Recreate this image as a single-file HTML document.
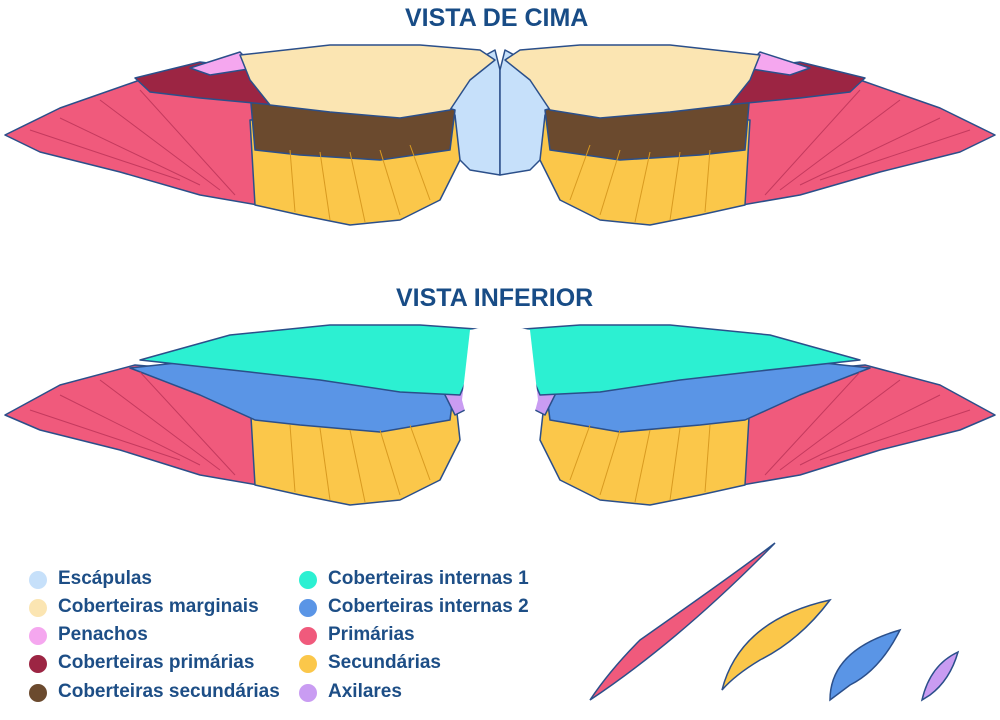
<!DOCTYPE html>
<html><head><meta charset="utf-8"><style>
body{margin:0;background:#fff;width:1000px;height:720px;overflow:hidden;font-family:"Liberation Sans",sans-serif}
.t{position:absolute;font-weight:bold;color:#184c86;font-size:25px;letter-spacing:0px}
.lg{position:absolute;font-weight:bold;color:#1d4e86;font-size:19px;white-space:nowrap}
.d{position:absolute;width:18px;height:18px;border-radius:50%}
</style></head><body>
<div class="t" style="left:405px;top:4px;font-family:'Liberation Sans Narrow','Liberation Sans',sans-serif">VISTA DE CIMA</div>
<div class="t" style="left:396px;top:284px;font-family:'Liberation Sans Narrow','Liberation Sans',sans-serif">VISTA INFERIOR</div>
<svg width="1000" height="720" style="position:absolute;left:0;top:0">
<defs>
<g id="top" stroke="#2b4f8a" stroke-width="1.5" stroke-linejoin="round">
<polygon fill="#c6e0fa" points="440,80 495,50 500,70 500,175 470,170 450,150"/>
<polygon fill="#f05a7c" points="5,135 60,108 140,80 255,95 258,205 200,195 120,172 40,152"/>
<polygon fill="#fbc74a" points="250,120 455,115 460,160 440,200 400,220 350,225 300,215 255,205"/>
<polygon fill="#6b4a2e" points="250,92 420,100 455,110 450,150 380,160 300,155 255,150"/>
<polygon fill="#9c2543" points="135,78 200,62 265,70 275,105 200,98 150,92"/>
<polygon fill="#f5a7ef" points="190,68 240,52 255,68 210,75"/>
<polygon fill="#fbe5b2" points="240,55 330,45 420,45 480,50 495,60 470,80 450,110 400,118 330,112 270,105 250,80"/>
<g stroke="#c43a5e" stroke-width="1"><line x1="60" y1="118" x2="200" y2="185"/><line x1="100" y1="100" x2="220" y2="190"/><line x1="140" y1="90" x2="235" y2="195"/><line x1="30" y1="130" x2="180" y2="180"/></g>
<g stroke="#d89a20" stroke-width="1"><line x1="290" y1="150" x2="295" y2="212"/><line x1="320" y1="152" x2="330" y2="220"/><line x1="350" y1="152" x2="365" y2="222"/><line x1="380" y1="150" x2="400" y2="215"/><line x1="410" y1="145" x2="430" y2="200"/></g>
</g>
<g id="bot" stroke="#2b4f8a" stroke-width="1.5" stroke-linejoin="round">
<polygon fill="#f05a7c" points="5,415 60,385 135,365 255,375 258,485 200,475 120,450 40,430"/>
<polygon fill="#fbc74a" points="250,400 455,395 460,440 440,480 400,500 350,505 300,495 255,485"/>
<polygon fill="#5a95e6" points="130,368 250,355 420,365 455,380 450,420 380,432 300,425 255,420 200,395"/>
<polygon fill="#c99cf2" points="440,385 470,378 475,405 455,415"/>
<polygon fill="#2cf0d2" points="140,360 230,335 330,325 420,325 490,330 475,360 460,395 400,392 320,380 250,372"/>
<g fill="#fff" stroke="none"><polygon points="470,330 495,325 498,420 470,430 462,400"/></g>
<g stroke="#c43a5e" stroke-width="1"><line x1="60" y1="395" x2="200" y2="465"/><line x1="100" y1="380" x2="220" y2="470"/><line x1="140" y1="372" x2="235" y2="475"/><line x1="30" y1="410" x2="180" y2="460"/></g>
<g stroke="#d89a20" stroke-width="1"><line x1="290" y1="425" x2="295" y2="492"/><line x1="320" y1="428" x2="330" y2="500"/><line x1="350" y1="430" x2="365" y2="502"/><line x1="380" y1="430" x2="400" y2="495"/><line x1="410" y1="425" x2="430" y2="480"/></g>
</g>
</defs>
<use href="#top"/><use href="#top" transform="translate(1000,0) scale(-1,1)"/>
<use href="#bot"/><use href="#bot" transform="translate(1000,0) scale(-1,1)"/>
<g stroke="#2b4f8a" stroke-width="1.5">
<path d="M590,700 Q680,640 775,543 Q740,570 640,640 Q610,670 590,700Z" fill="#f05a7c"/>
<path d="M722,690 Q740,620 830,600 Q800,640 760,660 Q735,675 722,690Z" fill="#fbc74a"/>
<path d="M830,700 Q830,650 900,630 Q880,670 850,685Z" fill="#5a95e6"/>
<path d="M922,700 Q930,665 958,652 Q950,680 930,695Z" fill="#c99cf2"/>
</g>
</svg>
<div class="d" style="left:29px;top:571px;background:#c6e0fa"></div><div class="lg" style="left:58px;top:568px">Escápulas</div>
<div class="d" style="left:29px;top:599px;background:#fbe5b2"></div><div class="lg" style="left:58px;top:596px">Coberteiras marginais</div>
<div class="d" style="left:29px;top:627px;background:#f5a7ef"></div><div class="lg" style="left:58px;top:624px">Penachos</div>
<div class="d" style="left:29px;top:655px;background:#9c2543"></div><div class="lg" style="left:58px;top:652px">Coberteiras primárias</div>
<div class="d" style="left:29px;top:684px;background:#6b4a2e"></div><div class="lg" style="left:58px;top:681px">Coberteiras secundárias</div>
<div class="d" style="left:299px;top:571px;background:#2cf0d2"></div><div class="lg" style="left:328px;top:568px">Coberteiras internas 1</div>
<div class="d" style="left:299px;top:599px;background:#5a95e6"></div><div class="lg" style="left:328px;top:596px">Coberteiras internas 2</div>
<div class="d" style="left:299px;top:627px;background:#f05a7c"></div><div class="lg" style="left:328px;top:624px">Primárias</div>
<div class="d" style="left:299px;top:655px;background:#fbc74a"></div><div class="lg" style="left:328px;top:652px">Secundárias</div>
<div class="d" style="left:299px;top:684px;background:#c99cf2"></div><div class="lg" style="left:328px;top:681px">Axilares</div>
</body></html>
